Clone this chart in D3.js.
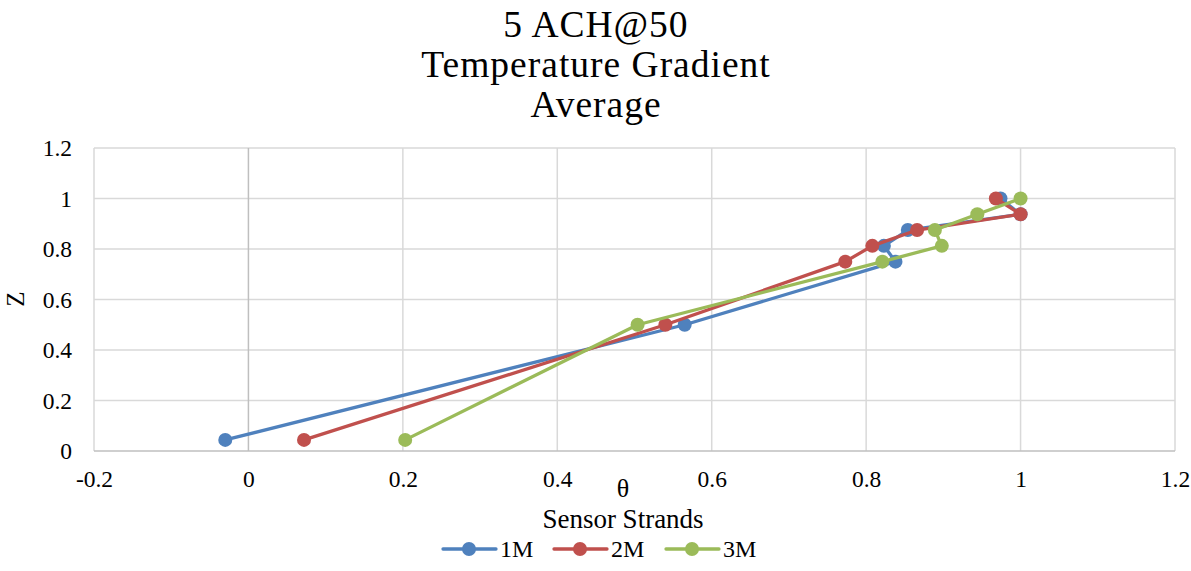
<!DOCTYPE html>
<html>
<head>
<meta charset="utf-8">
<script src="https://cdn.jsdelivr.net/npm/d3@7"></script>
<style>
  html, body { margin: 0; padding: 0; background: #fff; }
  svg { display: block; }
  text { font-family: "Liberation Serif", "DejaVu Serif", serif; fill: #000; }
</style>
</head>
<body>
<svg id="chart" width="1191" height="571"></svg>
<script>
// Normalised heights of the sensor positions
const zLevels = [0.044, 0.5, 0.75, 0.8125, 0.875, 0.9375, 1.0];
// Dimensionless temperature θ for each sensor strand
const theta1M = [-0.03, 0.565, 0.838, 0.823, 0.854, 1.0, 0.974];
const theta2M = [0.072, 0.540, 0.773, 0.808, 0.866, 1.0, 0.968];
const theta3M = [0.203, 0.504, 0.821, 0.898, 0.889, 0.944, 1.0];
const seriesNames = ["1M", "2M", "3M"];
const seriesColors = ["#4F81BD", "#C0504D", "#9BBB59"];
const xTicks = [-0.2, 0, 0.2, 0.4, 0.6, 0.8, 1, 1.2];
const yTicks = [0, 0.2, 0.4, 0.6, 0.8, 1, 1.2];
const titleLines = ["5 ACH@50", "Temperature Gradient", "Average"];

const series = [theta1M, theta2M, theta3M].map((vals, i) => ({
  name: seriesNames[i],
  color: seriesColors[i],
  points: vals.map((t, j) => ({ x: t, y: zLevels[j] }))
}));

const svg = d3.select("#chart");
const plot = { left: 94, right: 1175, top: 148, bottom: 451 };

const x = d3.scaleLinear().domain([-0.2, 1.2]).range([plot.left, plot.right]);
const y = d3.scaleLinear().domain([0, 1.2]).range([plot.bottom, plot.top]);

// Title
svg.append("g").selectAll("text").data(titleLines).join("text")
  .attr("x", 596).attr("y", (d, i) => 37 + i * 40)
  .attr("text-anchor", "middle")
  .style("font-size", "37.5px")
  .style("letter-spacing", "1px")
  .text(d => d);

// Gridlines
const grid = svg.append("g");
grid.selectAll("line.h").data(yTicks.filter(t => t > 0)).join("line")
  .attr("x1", plot.left).attr("x2", plot.right)
  .attr("y1", d => y(d)).attr("y2", d => y(d))
  .attr("stroke", "#D9D9D9").attr("stroke-width", 1.5);
grid.selectAll("line.v").data(xTicks.filter(t => t !== 0)).join("line")
  .attr("x1", d => x(d)).attr("x2", d => x(d))
  .attr("y1", plot.top).attr("y2", plot.bottom)
  .attr("stroke", "#D9D9D9").attr("stroke-width", 1.5);

// Axis lines (x axis along z = 0, y axis crossing at θ = 0)
svg.append("line")
  .attr("x1", plot.left).attr("x2", plot.right).attr("y1", y(0)).attr("y2", y(0))
  .attr("stroke", "#BFBFBF").attr("stroke-width", 1.5);
svg.append("line")
  .attr("x1", x(0)).attr("x2", x(0)).attr("y1", plot.top).attr("y2", plot.bottom)
  .attr("stroke", "#BFBFBF").attr("stroke-width", 1.5);

// Tick labels via d3 axes (plain hyphen for negatives)
const fmt = d => String(+d.toFixed(1));
const xAxis = svg.append("g").attr("transform", `translate(0,${plot.bottom})`)
  .call(d3.axisBottom(x).tickValues(xTicks).tickFormat(fmt).tickSize(0).tickPadding(19));
const yAxis = svg.append("g").attr("transform", `translate(${plot.left},0)`)
  .call(d3.axisLeft(y).tickValues(yTicks).tickFormat(fmt).tickSize(0).tickPadding(22));
[xAxis, yAxis].forEach(g => {
  g.select(".domain").remove();
  g.selectAll("text").style("font-size", "23.5px").style("font-family", '"Liberation Serif", serif').attr("fill", "#000");
});
xAxis.selectAll("text").attr("dy", "0.71em");

// Axis titles
svg.append("text").attr("transform", "translate(15,299) rotate(-90)")
  .attr("text-anchor", "middle").attr("dy", "0.35em")
  .style("font-size", "25px").text("Z");
svg.append("text").attr("x", 623).attr("y", 497)
  .attr("text-anchor", "middle").style("font-size", "26px").text("θ");
svg.append("text").attr("x", 623).attr("y", 528)
  .attr("text-anchor", "middle").style("font-size", "27px").text("Sensor Strands");

// Series lines and markers
const line = d3.line().x(d => x(d.x)).y(d => y(d.y));
const sg = svg.append("g").selectAll("g").data(series).join("g");
sg.append("path")
  .attr("d", d => line(d.points))
  .attr("fill", "none").attr("stroke", d => d.color).attr("stroke-width", 3.3)
  .attr("stroke-linejoin", "round").attr("stroke-linecap", "round");
sg.selectAll("circle").data(d => d.points.map(p => ({ ...p, color: d.color }))).join("circle")
  .attr("cx", d => x(d.x)).attr("cy", d => y(d.y)).attr("r", 7)
  .attr("fill", d => d.color);

// Legend
const legendX = [443, 554, 666];
const lg = svg.append("g").selectAll("g").data(series).join("g")
  .attr("transform", (d, i) => `translate(${legendX[i]},549)`);
lg.append("line").attr("x1", 0).attr("x2", 53).attr("y1", 0).attr("y2", 0)
  .attr("stroke", d => d.color).attr("stroke-width", 3.3).attr("stroke-linecap", "round");
lg.append("circle").attr("cx", 26).attr("cy", 0).attr("r", 7).attr("fill", d => d.color);
lg.append("text").attr("x", 57).attr("y", 0).attr("dy", "0.35em")
  .style("font-size", "24px").text(d => d.name);
</script>
</body>
</html>
